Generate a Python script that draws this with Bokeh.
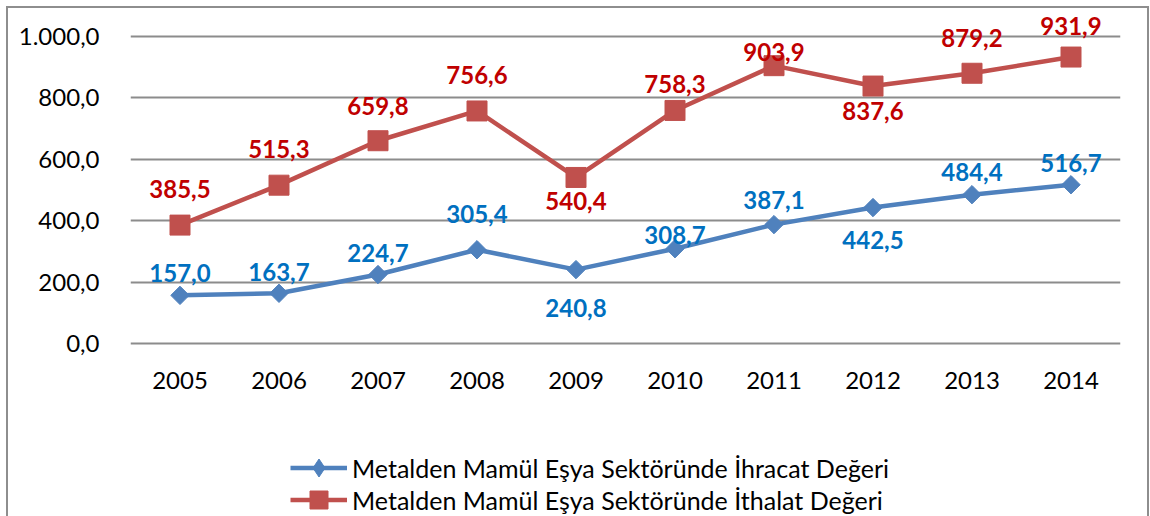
from bokeh.plotting import figure
from bokeh.models import FactorRange, Range1d, FixedTicker, Legend, LegendItem, ColumnDataSource, CustomJSTickFormatter
from bokeh.embed import file_html
from bokeh.resources import INLINE
from bokeh.core.properties import value
import math

years = ["2005", "2006", "2007", "2008", "2009", "2010", "2011", "2012", "2013", "2014"]
export_vals = [157.0, 163.7, 224.7, 305.4, 240.8, 308.7, 387.1, 442.5, 484.4, 516.7]
import_vals = [385.5, 515.3, 659.8, 756.6, 540.4, 758.3, 903.9, 837.6, 879.2, 931.9]
y_ticks = [0, 200, 400, 600, 800, 1000]
export_name = "Metalden Mamül Eşya Sektöründe İhracat Değeri"
import_name = "Metalden Mamül Eşya Sektöründe İthalat Değeri"

# label offsets in screen pixels (negative = above the point)
export_label_dy = [-22, -21, -22, -36, 38, -14, -25, 32, -23, -22]
import_label_dy = [-36, -36, -35, -36, 24, -26, -14, 25, -35, -31]


def fmt(v):
    s = f"{v:,.1f}"
    return s.replace(",", "X").replace(".", ",").replace("X", ".")


FONT = "Lato"
BLUE_LINE = "#4F81BD"
RED_LINE = "#C0504D"
BLUE_TXT = "#0070C0"
RED_TXT = "#C00000"
GRID = "#8c8c8c"

# frame spans from near the top to the bottom of the figure; the area below
# zero holds the category labels and the legend
p = figure(
    width=1139, height=508,
    x_range=FactorRange(factors=years, range_padding=0),
    y_range=Range1d(-562, 1080),
    output_backend="svg", toolbar_location=None,
    min_border_left=122, min_border_right=27, min_border_top=3, min_border_bottom=0,
)
p.margin = (8, 0, 0, 8)
p.styles = {"outline": "2px solid #8e8e8e", "outline-offset": "0px"}
p.outline_line_color = None
p.background_fill_color = "white"
p.border_fill_color = "white"

p.xgrid.grid_line_color = None
p.ygrid.grid_line_color = GRID
p.ygrid.grid_line_width = 2
p.yaxis.ticker = FixedTicker(ticks=y_ticks)
p.yaxis.formatter = CustomJSTickFormatter(code="""
const s = tick.toFixed(1);
let [i, d] = s.split('.');
i = i.replace(/\\B(?=(\\d{3})+(?!\\d))/g, '.');
return i + ',' + d;
""")

for ax in (p.xaxis[0], p.yaxis[0]):
    ax.axis_line_color = None
    ax.major_tick_line_color = None
    ax.minor_tick_line_color = None
    ax.major_label_text_font = FONT
    ax.major_label_text_font_size = "24px"
    ax.major_label_text_color = "#000000"
p.yaxis.major_label_standoff = 25
p.xaxis.major_label_standoff = 22
p.xaxis.fixed_location = 0

src_e = ColumnDataSource(dict(x=years, y=export_vals, lbl=[fmt(v) for v in export_vals], dy=export_label_dy))
src_i = ColumnDataSource(dict(x=years, y=import_vals, lbl=[fmt(v) for v in import_vals], dy=import_label_dy))

le = p.line("x", "y", source=src_e, line_color=BLUE_LINE, line_width=4.5)
me = p.scatter("x", "y", source=src_e, marker="square", angle=math.pi / 4, size=13,
               fill_color=BLUE_LINE, line_color=BLUE_LINE)
li = p.line("x", "y", source=src_i, line_color=RED_LINE, line_width=4.5)
mi = p.scatter("x", "y", source=src_i, marker="square", size=20,
               fill_color=RED_LINE, line_color=RED_LINE)
# legend-only markers (not drawn in the chart: y is NaN)
leg_src = ColumnDataSource(dict(x=[years[0]], y=[float("nan")]))
md_leg = p.scatter("x", "y", source=leg_src, marker="diamond", size=19,
                   fill_color=BLUE_LINE, line_color=BLUE_LINE)
ms_leg = p.scatter("x", "y", source=leg_src, marker="square", size=18,
                   fill_color=RED_LINE, line_color=RED_LINE)

p.text("x", "y", text="lbl", source=src_e, y_offset="dy", text_align="center", text_baseline="middle",
       text_font=value(FONT), text_font_style="bold", text_font_size="24px", text_color=BLUE_TXT)
p.text("x", "y", text="lbl", source=src_i, y_offset="dy", text_align="center", text_baseline="middle",
       text_font=value(FONT), text_font_style="bold", text_font_size="24px", text_color=RED_TXT)


def make_legend(label, renderers, loc):
    lg = Legend(items=[LegendItem(label=label, renderers=renderers)], location=loc, orientation="vertical")
    lg.padding = 0
    lg.margin = 0
    lg.spacing = 0
    lg.glyph_width = 57
    lg.glyph_height = 45
    lg.label_height = 45
    lg.label_standoff = 5
    lg.border_line_color = None
    lg.background_fill_alpha = 0
    lg.label_text_font = FONT
    lg.label_text_font_size = "25px"
    lg.label_text_color = "#000000"
    return lg


p.add_layout(make_legend(export_name, [le, md_leg], (160, 26)), "center")
p.add_layout(make_legend(import_name, [li, ms_leg], (160, -6)), "center")

open("out.html", "w").write(file_html(p, INLINE))
